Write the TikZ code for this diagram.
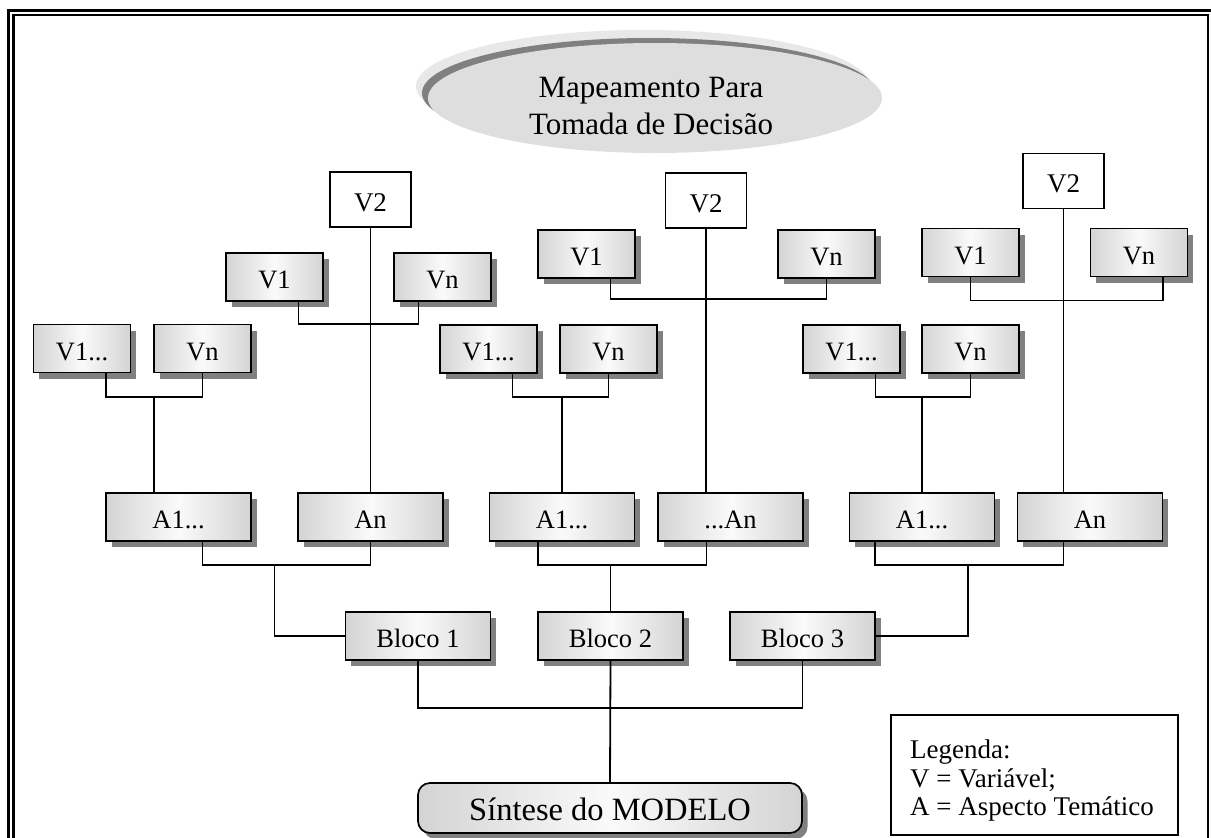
\documentclass[tikz,border=0pt]{standalone}
\usepackage{fontspec}
\setmainfont{Liberation Serif}
\usetikzlibrary{shadows}

\definecolor{boxedge}{gray}{0.83}
\definecolor{boxmid}{gray}{0.98}
\definecolor{shadowgray}{gray}{0.50}
\definecolor{ovalfront}{gray}{0.87}
\definecolor{ovalrim}{gray}{0.50}
\definecolor{ovalback}{gray}{0.91}

\tikzset{
  shadebox/.style={draw=black, line width=1.7pt,
    left color=boxedge, right color=boxedge, middle color=boxmid,
    drop shadow={shadow xshift=5.5pt, shadow yshift=-6pt, fill=shadowgray, opacity=1},
    inner sep=0pt, text height=23pt, text depth=0pt,
    font=\fontsize{26.5}{30}\selectfont},
  varbox/.style={shadebox, minimum width=97pt, minimum height=48pt},
  aspbox/.style={shadebox, minimum width=145pt, minimum height=48pt},
  topbox/.style={draw=black, line width=1.7pt, fill=white, inner sep=0pt,
    minimum width=81pt, minimum height=55pt, text height=23pt, text depth=0pt,
    font=\fontsize{27}{31}\selectfont},
  link/.style={line width=1.8pt, line join=miter},
}

\begin{document}
\begin{tikzpicture}[x=1pt, y=-1pt]
\useasboundingbox (0,0) rectangle (1211,838);
\clip (0,0) rectangle (1211,838);

% double page frame
\draw[line width=3pt] (8,10.7) rectangle (1218,850);
\draw[line width=2.6pt] (13.3,14.9) rectangle (1208,845);

% title oval with its rim
\fill[ovalback] (643,86) ellipse [x radius=227, y radius=56];
\fill[ovalrim] (649,93) ellipse [x radius=227, y radius=55];
\fill[ovalfront] (655,98) ellipse [x radius=227, y radius=55];
\node[align=center, inner sep=0pt, font=\fontsize{31}{38}\selectfont] (title) at (651,106)
  {Mapeamento Para\\Tomada de Decisão};

% ---------- left group ----------
\node[topbox] (LV2) at (370.5,199.5) {V2};
\node[varbox] (LV1) at (274.5,277) {V1};
\node[varbox] (LVn) at (442.5,277) {Vn};
\node[varbox] (LV1d) at (82,348.5) {V1...};
\node[varbox] (LVnd) at (202.5,348.5) {Vn};
\node[aspbox] (LA1) at (178.5,517) {A1...};
\node[aspbox] (LAn) at (370.5,517) {An};

% ---------- middle group ----------
\node[topbox] (MV2) at (706,200.5) {V2};
\node[varbox] (MV1) at (586.5,254) {V1};
\node[varbox] (MVn) at (826.5,254) {Vn};
\node[varbox] (MV1d) at (488.5,349) {V1...};
\node[varbox] (MVnd) at (608.5,349) {Vn};
\node[aspbox] (MA1) at (562,517) {A1...};
\node[aspbox] (MAn) at (730.5,517) {...An};

% ---------- right group ----------
\node[topbox] (RV2) at (1063.5,181) {V2};
\node[varbox] (RV1) at (970.5,252.5) {V1};
\node[varbox] (RVn) at (1139,252.5) {Vn};
\node[varbox] (RV1d) at (851.5,349) {V1...};
\node[varbox] (RVnd) at (970.5,349) {Vn};
\node[aspbox] (RA1) at (922,517) {A1...};
\node[aspbox] (RAn) at (1090,517) {An};

% ---------- blocks and synthesis ----------
\node[aspbox] (B1) at (418,636) {Bloco 1};
\node[aspbox] (B2) at (610.5,636) {Bloco 2};
\node[aspbox] (B3) at (802.5,636) {Bloco 3};
\node[shadebox, rounded corners=12pt, minimum width=384pt, minimum height=50pt,
  text height=25pt, font=\fontsize{32.5}{37}\selectfont] (S) at (610,808) {Síntese do MODELO};

% legend
\node[draw, line width=1.3pt, minimum width=287pt, minimum height=120pt, inner sep=0pt]
  (legend) at (1034.5,775) {};
\node[anchor=north west, align=left, inner sep=0pt, font=\fontsize{27}{28.5}\selectfont]
  (legtext) at (910,740) {Legenda:\\V = Variável;\\A = Aspecto Temático};

% junction points of the elbow connectors
\coordinate (jL1) at (370.5,324);
\coordinate (jL2) at (154,397);
\coordinate (jL3) at (274.5,565);
\coordinate (jM1) at (706,299);
\coordinate (jM2) at (562,397);
\coordinate (jM3) at (610.5,565);
\coordinate (jR1) at (1063.5,300.5);
\coordinate (jR2) at (922,397);
\coordinate (jR3) at (968,565);
\coordinate (jB) at (610.5,708);

% left connectors
\draw[link] ([xshift=24pt]LV1.south) |- (jL1) -| ([xshift=-24pt]LVn.south);
\draw[link] (LV2.south) -- (LAn.north);
\draw[link] ([xshift=24pt]LV1d.south) |- (jL2) -| (LVnd.south);
\draw[link] (jL2) -- (jL2 |- LA1.north);
\draw[link] ([xshift=24pt]LA1.south) |- (jL3) -| (LAn.south);
\draw[link] (jL3) |- (B1.west);

% middle connectors
\draw[link] ([xshift=24pt]MV1.south) |- (jM1) -| (MVn.south);
\draw[link] (MV2.south) -- (MV2.south |- MAn.north);
\draw[link] ([xshift=24pt]MV1d.south) |- (jM2) -| (MVnd.south);
\draw[link] (jM2) -- (MA1.north);
\draw[link] ([xshift=-24pt]MA1.south) |- (jM3) -| ([xshift=-24pt]MAn.south);
\draw[link] (jM3) -- (B2.north);

% right connectors
\draw[link] (RV1.south) |- (jR1) -| ([xshift=24pt]RVn.south);
\draw[link] (RV2.south) -- (RV2.south |- RAn.north);
\draw[link] ([xshift=24pt]RV1d.south) |- (jR2) -| (RVnd.south);
\draw[link] (jR2) -- (RA1.north);
\draw[link] ([xshift=-47pt]RA1.south) |- (jR3) -| (RAn.south -| RV2.south);
\draw[link] (jR3) |- (B3.east);

% blocks to synthesis
\draw[link] (B1.south) |- (jB) -| (B3.south);
\draw[link] (B2.south) -- (S.north);
\end{tikzpicture}
\end{document}
